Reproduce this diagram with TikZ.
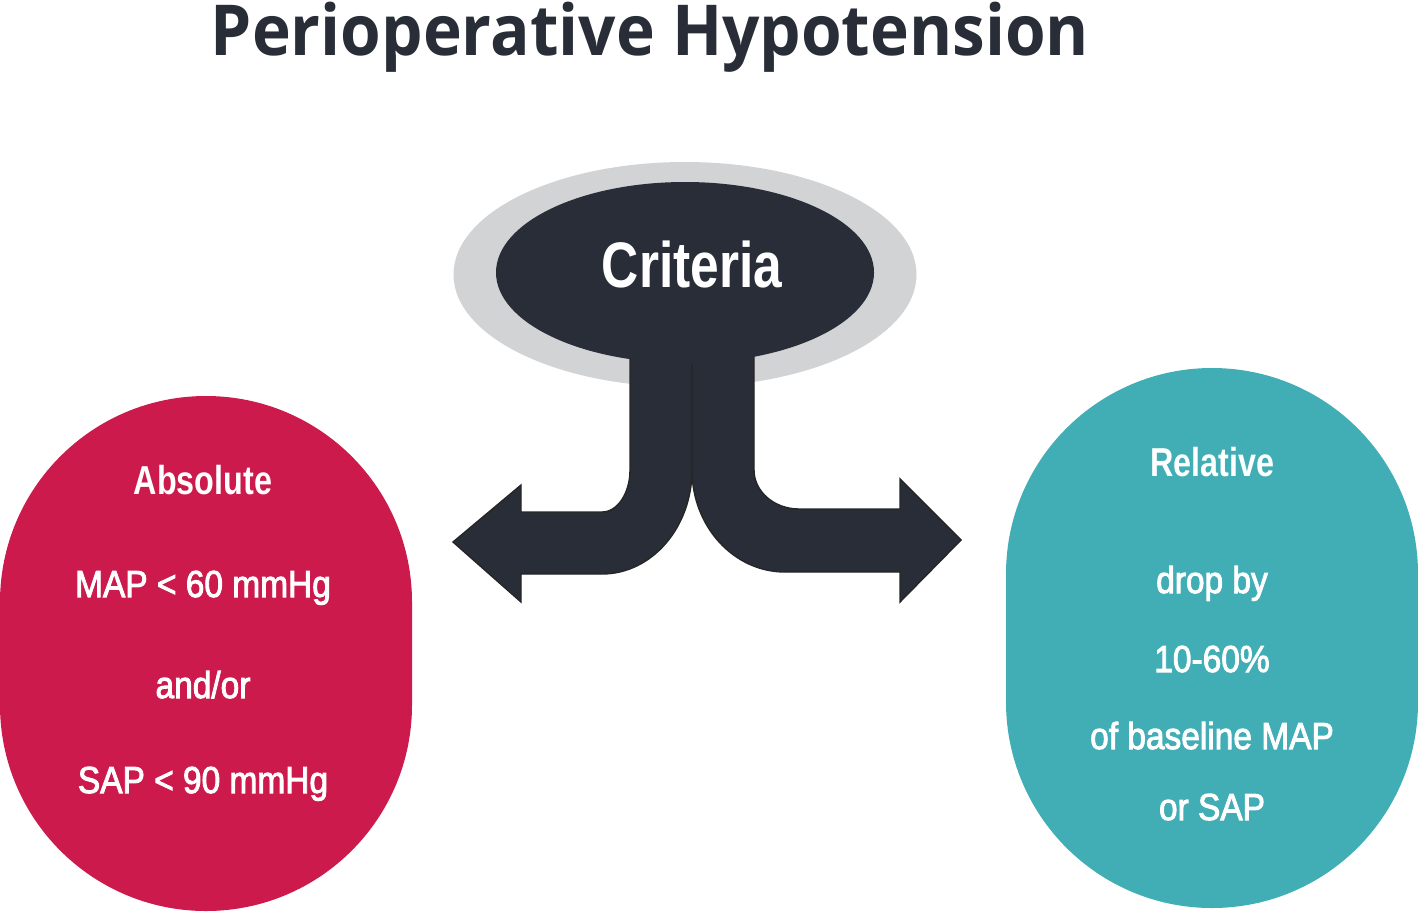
\documentclass[tikz,border=0pt]{standalone}
\usepackage{graphicx}
\usepackage{fontspec}
\setmainfont{Liberation Sans}
\newfontfamily\headfont{Open Sans}
\newfontfamily\bodyfont[FakeBold=2.6]{Liberation Sans}
\usetikzlibrary{shapes.geometric}
\definecolor{slate}{HTML}{282D38}
\definecolor{haze}{HTML}{D2D3D5}
\definecolor{crimson}{HTML}{CB1A4B}
\definecolor{lagoon}{HTML}{41ADB5}
\newcommand{\hdtxt}[1]{\scalebox{0.80}[1]{#1}}
\newcommand{\bdtxt}[1]{\scalebox{0.89}[1]{#1}}

\begin{document}
\begin{tikzpicture}[
		blob/.style={rounded corners=2.06cm, minimum width=4.12cm, inner sep=0pt},
		hd/.style={anchor=base, text=white, font=\bfseries\fontsize{11.5}{13}\selectfont},
		bd/.style={anchor=base, text=white, font=\bodyfont\fontsize{10.7}{13}\selectfont},
		forkarrow/.style={fill=slate, draw=black!85, line width=0.4pt}
	]
	\useasboundingbox (0,0) rectangle (14.18,9.11);
	\node[anchor=base, text=slate, font=\headfont\bfseries\fontsize{20}{24}\selectfont] (title) at (6.50,8.56) {\scalebox{0.935}[1]{Perioperative Hypotension}};

	\node[ellipse, fill=haze, minimum width=4.63cm, minimum height=2.25cm, inner sep=0pt] (halo) at (6.85,6.365) {};
	\draw[forkarrow] (6.30,5.60) -- (6.30,4.41) arc[start angle=0, end angle=-90, x radius=0.28, y radius=0.42] -- (5.21,3.99) -- (5.21,4.26) -- (4.53,3.69) -- (5.21,3.09) -- (5.21,3.37) -- (6.02,3.37) arc[start angle=-90, end angle=0, x radius=0.90, y radius=1.04] -- (6.92,5.60) -- cycle;
	\draw[forkarrow] (7.54,5.60) -- (7.54,4.41) arc[start angle=180, end angle=270, x radius=0.45, y radius=0.39] -- (9.00,4.02) -- (9.00,4.32) -- (9.61,3.71) -- (9.00,3.09) -- (9.00,3.39) -- (7.85,3.39) arc[start angle=270, end angle=180, x radius=0.93, y radius=1.02] -- (6.92,5.60) -- cycle;
	\node[ellipse, fill=slate, minimum width=3.78cm, minimum height=1.81cm, inner sep=0pt] (crit) at (6.85,6.385) {};
	\node[anchor=base, text=white, font=\bfseries\fontsize{18.3}{20}\selectfont] (critT) at (6.92,6.24) {\scalebox{0.80}[1]{Criteria}};

	% absolute
	\node[blob, fill=crimson, minimum height=5.15cm] (abs) at (2.06,2.575) {};
	\node[hd] (absA) at (2.03,4.17) {\hdtxt{Absolute}};
	\node[bd] (absB) at (2.03,3.14) {\bdtxt{MAP < 60 mmHg}};
	\node[bd] (absC) at (2.03,2.13) {\bdtxt{and/or}};
	\node[bd] (absD) at (2.03,1.18) {\bdtxt{SAP < 90 mmHg}};

	% relative
	\node[blob, fill=lagoon, minimum height=5.40cm] (rel) at (12.12,2.73) {};
	\node[hd] (relA) at (12.12,4.35) {\hdtxt{Relative}};
	\node[bd] (relB) at (12.12,3.18) {\bdtxt{drop by}};
	\node[bd] (relC) at (12.12,2.39) {\bdtxt{10-60\%}};
	\node[bd] (relD) at (12.12,1.62) {\bdtxt{of baseline MAP}};
	\node[bd] (relE) at (12.12,0.91) {\bdtxt{or SAP}};
\end{tikzpicture}
\end{document}
